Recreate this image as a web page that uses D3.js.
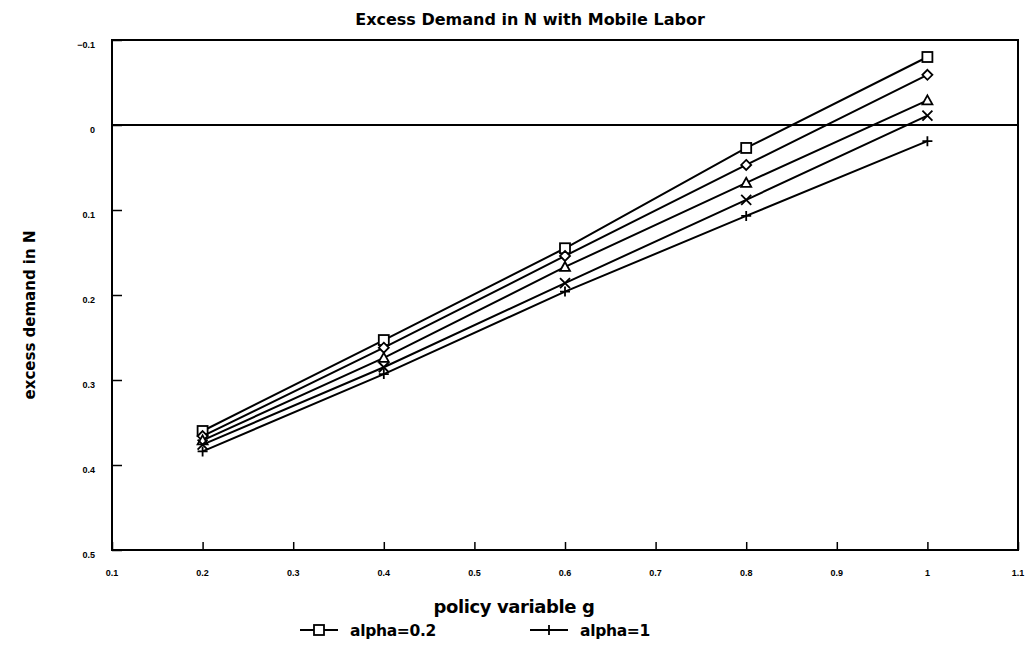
<!DOCTYPE html>
<html>
<head>
<meta charset="utf-8">
<script src="https://cdn.jsdelivr.net/npm/d3@7"></script>
<style>
  body { margin: 0; background: #fff; }
  svg { font-family: "Liberation Sans", Arial, sans-serif; }
  .lbl { font-family: "DejaVu Sans", sans-serif; font-weight: bold; }
</style>
</head>
<body>
<svg class="svg-main" width="1026" height="664"></svg>
<script>
const svg = d3.select('.svg-main');

// policy variable g
const gValues = [0.2, 0.4, 0.6, 0.8, 1.0];

// excess demand in N, one array per series
const seriesSquare   = [0.360, 0.253, 0.145, 0.027, -0.080];
const seriesDiamond  = [0.366, 0.262, 0.154, 0.047, -0.059];
const seriesTriangle = [0.371, 0.274, 0.167, 0.068, -0.029];
const seriesCross    = [0.376, 0.285, 0.186, 0.088, -0.011];
const seriesPlus     = [0.384, 0.293, 0.196, 0.107, 0.019];

const xTicks = [0.1, 0.2, 0.3, 0.4, 0.5, 0.6, 0.7, 0.8, 0.9, 1, 1.1];
const yTicks = [-0.1, 0, 0.1, 0.2, 0.3, 0.4, 0.5];

const legendItems = [
  { label: "alpha=0.2", symbol: "square" },
  { label: "alpha=1", symbol: "plus" }
];

const series = [
  { values: seriesSquare, symbol: "square" },
  { values: seriesDiamond, symbol: "diamond" },
  { values: seriesTriangle, symbol: "triangle" },
  { values: seriesCross, symbol: "cross" },
  { values: seriesPlus, symbol: "plus" }
];

const margin = { left: 112, right: 8, top: 40, bottom: 114 };
const width = Number(svg.attr("width"));
const height = Number(svg.attr("height"));

const x = d3.scaleLinear()
  .domain([0.1, 1.1])
  .range([margin.left, width - margin.right]);

const y = d3.scaleLinear()
  .domain([-0.1, 0.5])
  .range([margin.top, height - margin.bottom]);

// frame
svg.append("rect")
  .attr("x", x(0.1))
  .attr("y", y(-0.1))
  .attr("width", x(1.1) - x(0.1))
  .attr("height", y(0.5) - y(-0.1))
  .attr("fill", "none")
  .attr("stroke", "#000")
  .attr("stroke-width", 2);

// axes
const xAxis = svg.append("g")
  .attr("transform", `translate(0,${y(0.5)})`)
  .call(d3.axisTop(x).tickValues(xTicks).tickSize(8).tickFormat(""));
xAxis.select(".domain").remove();
xAxis.selectAll("line").attr("stroke-width", 1.5);

svg.append("g")
  .selectAll("text")
  .data(xTicks)
  .enter().append("text")
    .attr("x", (d) => x(d))
    .attr("y", y(0.5) + 26)
    .attr("text-anchor", "middle")
    .attr("font-size", 9)
    .attr("font-weight", "bold")
    .text((d) => d3.format("")(d));

const yAxis = svg.append("g")
  .attr("transform", `translate(${x(0.1)},0)`)
  .call(d3.axisRight(y).tickValues(yTicks).tickSize(10).tickFormat(""));
yAxis.select(".domain").remove();
yAxis.selectAll("line").attr("stroke-width", 1.5);

svg.append("g")
  .selectAll("text")
  .data(yTicks)
  .enter().append("text")
    .attr("x", 95)
    .attr("y", (d) => y(d) + 8)
    .attr("text-anchor", "end")
    .attr("font-size", 9)
    .attr("font-weight", "bold")
    .text((d) => d3.format("")(d));

// zero line
svg.append("line")
  .attr("x1", x(0.1))
  .attr("x2", x(1.1))
  .attr("y1", y(0))
  .attr("y2", y(0))
  .attr("stroke", "#000")
  .attr("stroke-width", 2);

// marker shapes
function marker(sel, symbol, size) {
  const s = size / 2;
  if (symbol === "square") {
    sel.append("rect").attr("x", -s).attr("y", -s).attr("width", size).attr("height", size);
  } else if (symbol === "diamond") {
    sel.append("path").attr("d", `M0,${-s}L${s},0L0,${s}L${-s},0Z`);
  } else if (symbol === "triangle") {
    sel.append("path").attr("d", `M0,${-s}L${s},${s * 0.8}L${-s},${s * 0.8}Z`);
  } else if (symbol === "cross") {
    sel.append("path").attr("d", `M${-s},${-s}L${s},${s}M${s},${-s}L${-s},${s}`);
  } else if (symbol === "plus") {
    sel.append("path").attr("d", `M${-s},0L${s},0M0,${-s}L0,${s}`);
  }
}

const line = d3.line()
  .x((d, i) => x(gValues[i]))
  .y((d) => y(d));

const lines = svg.append("g").attr("class", "series");

series.forEach((s) => {
  lines.append("path")
    .datum(s.values)
    .attr("d", line)
    .attr("fill", "none")
    .attr("stroke", "#000")
    .attr("stroke-width", 2);

  s.values.forEach((v, i) => {
    const g = lines.append("g")
      .attr("transform", `translate(${x(gValues[i])},${y(v)})`)
      .attr("fill", "#fff")
      .attr("stroke", "#000")
      .attr("stroke-width", 1.8);
    marker(g, s.symbol, 10);
  });
});

// titles
svg.append("text")
  .attr("class", "lbl")
  .attr("x", 530)
  .attr("y", 25)
  .attr("text-anchor", "middle")
  .attr("font-size", 16)
  .text("Excess Demand in N with Mobile Labor");

svg.append("text")
  .attr("class", "lbl")
  .attr("x", 514)
  .attr("y", 613)
  .attr("text-anchor", "middle")
  .attr("font-size", 18)
  .attr("letter-spacing", -0.4)
  .text("policy variable g");

svg.append("text")
  .attr("class", "lbl")
  .attr("transform", "translate(35,315) rotate(-90)")
  .attr("text-anchor", "middle")
  .attr("font-size", 15)
  .text("excess demand in N");

// legend
const legend = svg.append("g")
  .selectAll("g")
  .data(legendItems)
  .enter().append("g")
    .attr("transform", (d, i) => `translate(${300 + i * 230},630)`);

legend.append("line")
  .attr("x1", 0).attr("x2", 38)
  .attr("stroke", "#000")
  .attr("stroke-width", 1.8);

legend.each(function(d) {
  const g = d3.select(this).append("g")
    .attr("transform", "translate(19,0)")
    .attr("fill", "#fff")
    .attr("stroke", "#000")
    .attr("stroke-width", 1.8);
  marker(g, d.symbol, 10);
});

legend.append("text")
  .attr("class", "lbl")
  .attr("x", 50)
  .attr("y", 6)
  .attr("font-size", 15.5)
  .attr("letter-spacing", -0.3)
  .text((d) => d.label);
</script>
</body>
</html>
